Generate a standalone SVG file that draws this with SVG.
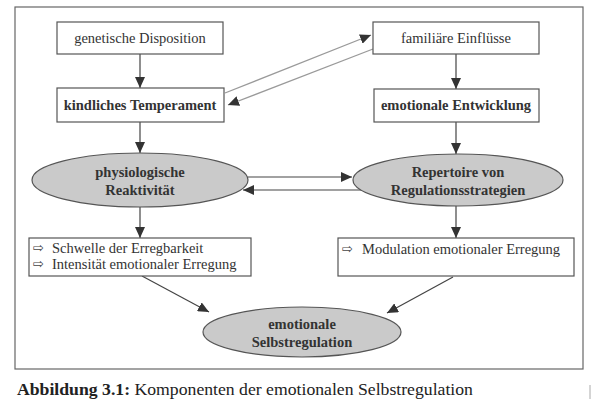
<svg xmlns="http://www.w3.org/2000/svg" width="596" height="410" viewBox="0 0 596 410">
<style>
.box{fill:#fff;stroke:#555;stroke-width:1.2}
.ell{fill:#cacaca;stroke:#555;stroke-width:1.2}
.t{font-family:'Liberation Serif','DejaVu Serif','Noto Serif',serif;font-size:14.5px;fill:#333;text-anchor:middle}
.b{font-weight:bold}
.l{font-family:'Liberation Serif','DejaVu Serif','Noto Serif',serif;font-size:14.5px;fill:#333}
.sym{font-family:'DejaVu Sans',sans-serif;font-size:13px;fill:#444}
.cap{font-family:'Liberation Serif','DejaVu Serif','Noto Serif',serif;font-size:17.7px;fill:#222}
.c{stroke:#444;stroke-width:1.2;fill:none;marker-end:url(#ah)}
.g{stroke:#9a9a9a;stroke-width:1.3;fill:none;marker-end:url(#ah)}
</style>
<defs>
<marker id="ah" markerUnits="userSpaceOnUse" markerWidth="12" markerHeight="10" refX="11" refY="5" orient="auto">
<path d="M0,0 L11,5 L0,10 z" fill="#333"/>
</marker>
</defs>
<rect width="596" height="410" fill="#fff"/>
<rect x="15" y="7" width="568" height="362" fill="none" stroke="#666" stroke-width="1.2"/>
<g id="connectors">
<line class="c" x1="140" y1="54" x2="140" y2="88"/>
<line class="c" x1="140" y1="122" x2="140" y2="153"/>
<line class="c" x1="140" y1="207" x2="140" y2="238"/>
<line class="c" x1="456" y1="54" x2="456" y2="89"/>
<line class="c" x1="456" y1="122" x2="456" y2="154"/>
<line class="c" x1="456" y1="206" x2="456" y2="238"/>
<line class="g" x1="225" y1="93" x2="371" y2="35"/>
<line class="g" x1="373" y1="49" x2="228" y2="105"/>
<line class="c" x1="248" y1="177" x2="352" y2="177"/>
<line class="c" x1="362" y1="190" x2="243" y2="190"/>
<line class="c" x1="142" y1="276" x2="209" y2="312"/>
<line class="c" x1="453" y1="277" x2="387" y2="313"/>
</g>
<g id="genetische-disposition">
<rect class="box" x="57" y="22" width="166" height="32"/>
<text class="t" x="140" y="43">genetische Disposition</text>
</g>
<g id="kindliches-temperament">
<rect class="box" x="57" y="88" width="167" height="34"/>
<text class="t b" x="140" y="110">kindliches Temperament</text>
</g>
<g id="familiaere-einfluesse">
<rect class="box" x="373" y="22" width="166" height="32"/>
<text class="t" x="456" y="43">familiäre Einflüsse</text>
</g>
<g id="emotionale-entwicklung">
<rect class="box" x="374" y="89" width="165" height="33"/>
<text class="t b" x="456" y="110">emotionale Entwicklung</text>
</g>
<g id="physiologische-reaktivitaet">
<ellipse class="ell" cx="140" cy="180" rx="108" ry="27"/>
<text class="t b" x="140" y="177">physiologische</text>
<text class="t b" x="140" y="195">Reaktivität</text>
</g>
<g id="repertoire">
<ellipse class="ell" cx="458" cy="180" rx="105" ry="26"/>
<text class="t b" x="458" y="177">Repertoire von</text>
<text class="t b" x="458" y="195">Regulationsstrategien</text>
</g>
<g id="reaktivitaet-liste">
<rect class="box" x="29" y="238" width="222" height="38"/>
<text class="sym" x="33" y="252">⇨</text>
<text class="l" x="52" y="253">Schwelle der Erregbarkeit</text>
<text class="sym" x="33" y="268">⇨</text>
<text class="l" x="52" y="269">Intensität emotionaler Erregung</text>
</g>
<g id="modulation-liste">
<rect class="box" x="338" y="238" width="236" height="38"/>
<text class="sym" x="342" y="253">⇨</text>
<text class="l" x="362" y="254">Modulation emotionaler Erregung</text>
</g>
<g id="emotionale-selbstregulation">
<ellipse class="ell" cx="302" cy="332" rx="99" ry="25"/>
<text class="t b" x="302" y="329">emotionale</text>
<text class="t b" x="302" y="347">Selbstregulation</text>
</g>
<text class="cap" x="17" y="395"><tspan font-weight="bold">Abbildung 3.1:</tspan> Komponenten der emotionalen Selbstregulation</text>
<line x1="590" y1="385" x2="590" y2="399" stroke="#aaa" stroke-width="1"/>
</svg>
